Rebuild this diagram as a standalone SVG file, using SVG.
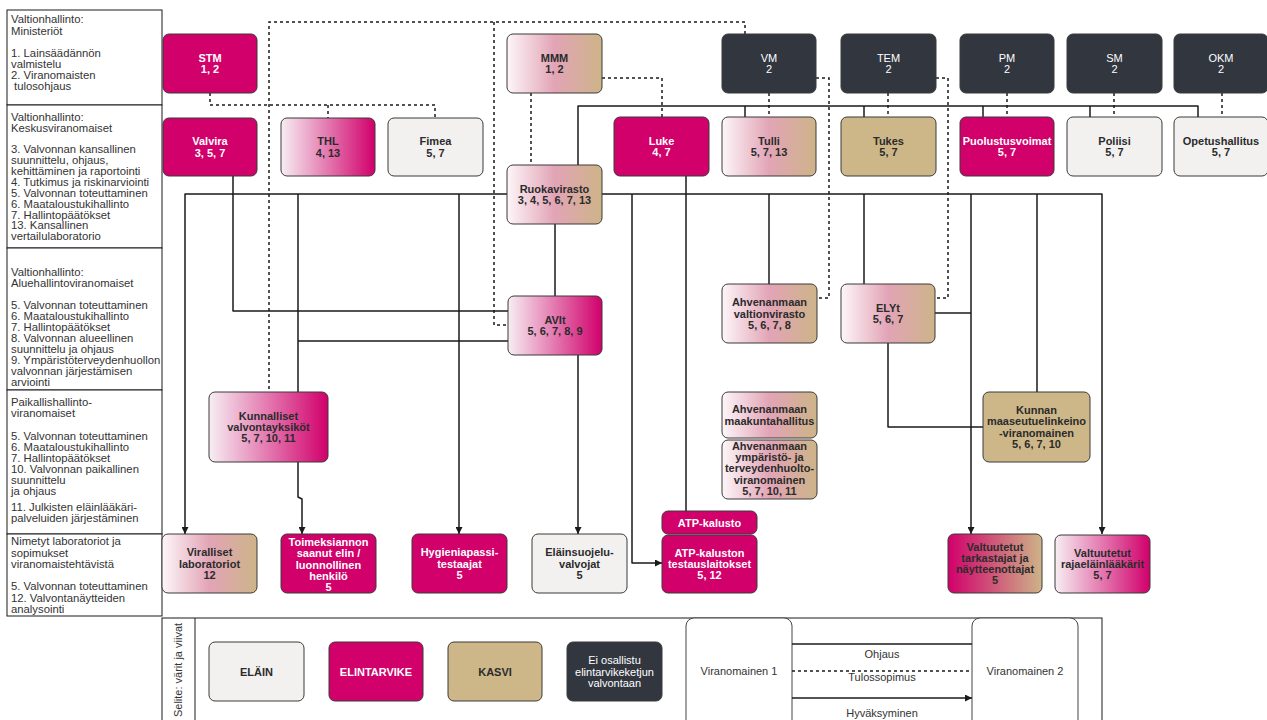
<svg xmlns="http://www.w3.org/2000/svg" width="1267" height="720" viewBox="0 0 1267 720">
<style>
.lc{fill:#fff;stroke:#1a1a1a;stroke-width:1}
.lt{font-family:"Liberation Sans",Arial,sans-serif;font-size:11.3px;fill:#333}
.n{stroke:#3a3a3a;stroke-width:1}
.t{font-family:"Liberation Sans",Arial,sans-serif;font-size:11px;font-weight:bold;text-anchor:middle;fill:#2b2b2b}
.tw{fill:#fff}
.tr{font-weight:normal}
.mag{fill:#D1006B}
.drk{fill:#32363F}
.gry{fill:#F2F1EF}
.tan{fill:#CDB788}
.s{fill:none;stroke:#1a1a1a;stroke-width:1.5;stroke-linejoin:round}
.d{fill:none;stroke:#1a1a1a;stroke-width:1.5;stroke-dasharray:3 3}
.a{marker-end:url(#arr)}
.lg{font-family:"Liberation Sans",Arial,sans-serif;font-size:11px;fill:#333;text-anchor:middle}
</style>
<defs>
<linearGradient id="wpt" x1="0" y1="0" x2="1" y2="0">
<stop offset="0" stop-color="#FDF6F9"/><stop offset="0.5" stop-color="#E2A4B6"/><stop offset="1" stop-color="#CDB488"/>
</linearGradient>
<linearGradient id="wm" x1="0" y1="0" x2="1" y2="0">
<stop offset="0" stop-color="#F6EEF2"/><stop offset="1" stop-color="#D1006B"/>
</linearGradient>
<linearGradient id="mt" x1="0" y1="0" x2="1" y2="0">
<stop offset="0" stop-color="#D1006B"/><stop offset="1" stop-color="#CDB488"/>
</linearGradient>
<marker id="arr" viewBox="0 0 10 10" refX="10" refY="5" markerWidth="7" markerHeight="7" markerUnits="userSpaceOnUse" orient="auto">
<path d="M0,0 L10,5 L0,10 z" fill="#1a1a1a"/>
</marker>
</defs>
<rect width="1267" height="720" fill="#fff"/>

<g id="levels">
<rect class="lc" x="7" y="10" width="155" height="95"/>
<text class="lt" x="11"><tspan x="11" y="23">Valtionhallinto:</tspan><tspan x="11" y="34.5">Ministeriöt</tspan><tspan x="11" y="56.5">1. Lainsäädännön</tspan><tspan x="11" y="67.5">valmistelu</tspan><tspan x="11" y="78.5">2. Viranomaisten</tspan><tspan x="14" y="89.5">tulosohjaus</tspan></text>
<rect class="lc" x="7" y="105" width="155" height="143"/>
<text class="lt"><tspan x="11" y="121">Valtionhallinto:</tspan><tspan x="11" y="132">Keskusviranomaiset</tspan><tspan x="11" y="153">3. Valvonnan kansallinen</tspan><tspan x="11" y="164">suunnittelu, ohjaus,</tspan><tspan x="11" y="175">kehittäminen ja raportointi</tspan><tspan x="11" y="186">4. Tutkimus ja riskinarviointi</tspan><tspan x="11" y="197">5. Valvonnan toteuttaminen</tspan><tspan x="11" y="207.5">6. Maataloustukihallinto</tspan><tspan x="11" y="218.5">7. Hallintopäätökset</tspan><tspan x="11" y="229">13. Kansallinen</tspan><tspan x="11" y="240">vertailulaboratorio</tspan></text>
<rect class="lc" x="7" y="248" width="155" height="142"/>
<text class="lt"><tspan x="11" y="276">Valtionhallinto:</tspan><tspan x="11" y="287">Aluehallintoviranomaiset</tspan><tspan x="11" y="309">5. Valvonnan toteuttaminen</tspan><tspan x="11" y="320">6. Maataloustukihallinto</tspan><tspan x="11" y="331">7. Hallintopäätökset</tspan><tspan x="11" y="342">8. Valvonnan alueellinen</tspan><tspan x="11" y="353">suunnittelu ja ohjaus</tspan><tspan x="11" y="364">9. Ympäristöterveydenhuollon</tspan><tspan x="11" y="375">valvonnan järjestämisen</tspan><tspan x="11" y="386">arviointi</tspan></text>
<rect class="lc" x="7" y="390" width="155" height="144"/>
<text class="lt"><tspan x="11" y="406">Paikallishallinto-</tspan><tspan x="11" y="417">viranomaiset</tspan><tspan x="11" y="440">5. Valvonnan toteuttaminen</tspan><tspan x="11" y="451">6. Maataloustukihallinto</tspan><tspan x="11" y="462">7. Hallintopäätökset</tspan><tspan x="11" y="473">10. Valvonnan paikallinen</tspan><tspan x="11" y="484">suunnittelu</tspan><tspan x="11" y="495">ja ohjaus</tspan><tspan x="11" y="511">11. Julkisten eläinlääkäri-</tspan><tspan x="11" y="522">palveluiden järjestäminen</tspan></text>
<rect class="lc" x="7" y="534" width="155" height="82"/>
<text class="lt"><tspan x="11" y="545">Nimetyt laboratoriot ja</tspan><tspan x="11" y="557">sopimukset</tspan><tspan x="11" y="568">viranomaistehtävistä</tspan><tspan x="11" y="590">5. Valvonnan toteuttaminen</tspan><tspan x="11" y="602">12. Valvontanäytteiden</tspan><tspan x="11" y="613">analysointi</tspan></text>
</g>

<g id="connectors">
<path class="d" d="M745,34 V22 H269 V392"/>
<path class="d" d="M494,22 V325 H508"/>
<path class="d" d="M210,93 V105 H435 V118"/>
<path class="d" d="M328,105 V118"/>
<path class="d" d="M602,78 H662 V117"/>
<path class="d" d="M531,93 V165"/>
<path class="d" d="M769,93 V117"/>
<path class="d" d="M816,78 H829 V298 H817"/>
<path class="d" d="M888,93 V117"/>
<path class="d" d="M936,78 H948 V298 H935"/>
<path class="d" d="M1007,93 V117"/>
<path class="d" d="M1114,93 V117"/>
<path class="d" d="M1222,93 V117"/>

<path class="s" d="M233,176 V311 H508"/>
<path class="s" d="M578,165 V106 H1198 V117"/>
<path class="s" d="M745,106 V117"/>
<path class="s" d="M864,106 V117"/>
<path class="s" d="M983,106 V117"/>
<path class="s" d="M1090,106 V117"/>
<path class="s a" d="M507,194 H185 V534"/>
<path class="s" d="M298,194 V392"/>
<path class="s a" d="M459,194 V534"/>
<path class="s a" d="M602,194 H1102 V534"/>
<path class="s a" d="M632,194 V563 H662"/>
<path class="s" d="M769,194 V284"/>
<path class="s" d="M864,194 V284"/>
<path class="s a" d="M971,194 V534"/>
<path class="s" d="M1037,194 V392"/>
<path class="s" d="M555,224 V296"/>
<path class="s" d="M686,176 V511"/>
<path class="s" d="M508,341 H298"/>
<path class="s a" d="M578,355 V534"/>
<path class="s a" d="M298,462 V497 L302,499 V534"/>
<path class="s" d="M935,313 H971"/>
<path class="s" d="M888,343 V427 H983"/>
</g>

<g id="n-stm"><rect class="n mag" x="163" y="34" width="94" height="59" rx="6"/><text class="t tw" x="210"><tspan x="210" y="61.9">STM</tspan><tspan x="210" y="73.2">1, 2</tspan></text></g>
<g id="n-mmm"><rect class="n" fill="url(#wpt)" x="507" y="34" width="95" height="59" rx="6"/><text class="t" x="554.5" fill="#444"><tspan x="554.5" y="61.9">MMM</tspan><tspan x="554.5" y="73.2">1, 2</tspan></text></g>
<g id="n-vm"><rect class="n drk" x="722" y="34" width="94" height="59" rx="6"/><text class="t tw tr" x="769"><tspan x="769" y="61.9">VM</tspan><tspan x="769" y="73.2">2</tspan></text></g>
<g id="n-tem"><rect class="n drk" x="841" y="34" width="95" height="59" rx="6"/><text class="t tw tr" x="888.5"><tspan x="888.5" y="61.9">TEM</tspan><tspan x="888.5" y="73.2">2</tspan></text></g>
<g id="n-pm"><rect class="n drk" x="960" y="34" width="94" height="59" rx="6"/><text class="t tw tr" x="1007"><tspan x="1007" y="61.9">PM</tspan><tspan x="1007" y="73.2">2</tspan></text></g>
<g id="n-sm"><rect class="n drk" x="1067" y="34" width="95" height="59" rx="6"/><text class="t tw tr" x="1114.5"><tspan x="1114.5" y="61.9">SM</tspan><tspan x="1114.5" y="73.2">2</tspan></text></g>
<g id="n-okm"><rect class="n drk" x="1174" y="34" width="94" height="59" rx="6"/><text class="t tw tr" x="1221"><tspan x="1221" y="61.9">OKM</tspan><tspan x="1221" y="73.2">2</tspan></text></g>

<g id="n-valvira"><rect class="n mag" x="163" y="118" width="94" height="58" rx="6"/><text class="t tw"><tspan x="210" y="145.4">Valvira</tspan><tspan x="210" y="156.7">3, 5, 7</tspan></text></g>
<g id="n-thl"><rect class="n" fill="url(#wm)" x="281" y="118" width="94" height="58" rx="6"/><text class="t"><tspan x="328" y="145.4">THL</tspan><tspan x="328" y="156.7">4, 13</tspan></text></g>
<g id="n-fimea"><rect class="n gry" x="388" y="118" width="95" height="58" rx="6"/><text class="t"><tspan x="435.5" y="145.4">Fimea</tspan><tspan x="435.5" y="156.7">5, 7</tspan></text></g>
<g id="n-luke"><rect class="n mag" x="614" y="117" width="95" height="59" rx="6"/><text class="t tw"><tspan x="661.5" y="144.9">Luke</tspan><tspan x="661.5" y="156.2">4, 7</tspan></text></g>
<g id="n-tulli"><rect class="n" fill="url(#wpt)" x="722" y="117" width="94" height="59" rx="6"/><text class="t"><tspan x="769" y="144.9">Tulli</tspan><tspan x="769" y="156.2">5, 7, 13</tspan></text></g>
<g id="n-tukes"><rect class="n tan" x="841" y="117" width="95" height="59" rx="6"/><text class="t"><tspan x="888.5" y="144.9">Tukes</tspan><tspan x="888.5" y="156.2">5, 7</tspan></text></g>
<g id="n-puolustusvoimat"><rect class="n mag" x="960" y="117" width="94" height="59" rx="6"/><text class="t tw"><tspan x="1007" y="144.9">Puolustusvoimat</tspan><tspan x="1007" y="156.2">5, 7</tspan></text></g>
<g id="n-poliisi"><rect class="n gry" x="1067" y="117" width="95" height="59" rx="6"/><text class="t"><tspan x="1114.5" y="144.9">Poliisi</tspan><tspan x="1114.5" y="156.2">5, 7</tspan></text></g>
<g id="n-opetushallitus"><rect class="n gry" x="1174" y="117" width="94" height="59" rx="6"/><text class="t"><tspan x="1221" y="144.9">Opetushallitus</tspan><tspan x="1221" y="156.2">5, 7</tspan></text></g>

<g id="n-ruokavirasto"><rect class="n" fill="url(#wpt)" x="507" y="165" width="95" height="59" rx="6"/><text class="t"><tspan x="554.5" y="192.9">Ruokavirasto</tspan><tspan x="554.5" y="204.2">3, 4, 5, 6, 7, 13</tspan></text></g>
<g id="n-avit"><rect class="n" fill="url(#wm)" x="508" y="296" width="94" height="59" rx="6"/><text class="t"><tspan x="555" y="323.9">AVIt</tspan><tspan x="555" y="335.2">5, 6, 7, 8, 9</tspan></text></g>
<g id="n-ahv-valtionvirasto"><rect class="n" fill="url(#wpt)" x="722" y="284" width="95" height="59" rx="6"/><text class="t"><tspan x="769.5" y="306.2">Ahvenanmaan</tspan><tspan x="769.5" y="317.5">valtionvirasto</tspan><tspan x="769.5" y="328.8">5, 6, 7, 8</tspan></text></g>
<g id="n-elyt"><rect class="n" fill="url(#wpt)" x="841" y="284" width="94" height="59" rx="6"/><text class="t"><tspan x="888" y="311.9">ELYt</tspan><tspan x="888" y="323.2">5, 6, 7</tspan></text></g>
<g id="n-kunnalliset"><rect class="n" fill="url(#wm)" x="209" y="392" width="119" height="70" rx="6"/><text class="t"><tspan x="268.5" y="419.7">Kunnalliset</tspan><tspan x="268.5" y="431">valvontayksiköt</tspan><tspan x="268.5" y="442.3">5, 7, 10, 11</tspan></text></g>
<g id="n-ahv-maakuntahallitus"><rect class="n" fill="url(#wpt)" x="722" y="392" width="95" height="46" rx="6"/><text class="t"><tspan x="769.5" y="413.4">Ahvenanmaan</tspan><tspan x="769.5" y="424.7">maakuntahallitus</tspan></text></g>
<g id="n-ahv-ymparisto"><rect class="n" fill="url(#wpt)" x="722" y="440" width="95" height="59" rx="6"/><text class="t"><tspan x="769.5" y="450">Ahvenanmaan</tspan><tspan x="769.5" y="461.2">ympäristö- ja</tspan><tspan x="769.5" y="472.4">terveydenhuolto-</tspan><tspan x="769.5" y="483.6">viranomainen</tspan><tspan x="769.5" y="494.8">5, 7, 10, 11</tspan></text></g>
<g id="n-kunnan-maaseutu"><rect class="n tan" x="983" y="392" width="107" height="70" rx="6"/><text class="t"><tspan x="1036.5" y="414">Kunnan</tspan><tspan x="1036.5" y="425.3">maaseutuelinkeino</tspan><tspan x="1036.5" y="436.6">-viranomainen</tspan><tspan x="1036.5" y="447.9">5, 6, 7, 10</tspan></text></g>

<g id="n-viralliset"><rect class="n" fill="url(#wpt)" x="162" y="534" width="95" height="59" rx="6"/><text class="t"><tspan x="209.5" y="556.2">Viralliset</tspan><tspan x="209.5" y="567.5">laboratoriot</tspan><tspan x="209.5" y="578.8">12</tspan></text></g>
<g id="n-toimeksiannon"><rect class="n mag" x="281" y="534" width="95" height="59" rx="6"/><text class="t tw"><tspan x="328.5" y="546.3">Toimeksiannon</tspan><tspan x="328.5" y="557.4">saanut elin /</tspan><tspan x="328.5" y="568.5">luonnollinen</tspan><tspan x="328.5" y="579.6">henkilö</tspan><tspan x="328.5" y="590.7">5</tspan></text></g>
<g id="n-hygieniapassi"><rect class="n mag" x="412" y="534" width="95" height="59" rx="6"/><text class="t tw"><tspan x="459.5" y="556.2">Hygieniapassi-</tspan><tspan x="459.5" y="567.5">testaajat</tspan><tspan x="459.5" y="578.8">5</tspan></text></g>
<g id="n-elainsuojelu"><rect class="n gry" x="532" y="534" width="95" height="59" rx="6"/><text class="t"><tspan x="579.5" y="556.2">Eläinsuojelu-</tspan><tspan x="579.5" y="567.5">valvojat</tspan><tspan x="579.5" y="578.8">5</tspan></text></g>
<g id="n-atp-kalusto"><rect class="n mag" x="662" y="511" width="95" height="23" rx="6"/><text class="t tw"><tspan x="709.5" y="526.5">ATP-kalusto</tspan></text></g>
<g id="n-atp-testaus"><rect class="n mag" x="662" y="535" width="95" height="58" rx="6"/><text class="t tw"><tspan x="709.5" y="556.7">ATP-kaluston</tspan><tspan x="709.5" y="568">testauslaitokset</tspan><tspan x="709.5" y="579.3">5, 12</tspan></text></g>
<g id="n-valtuutetut-tarkastajat"><rect class="n" fill="url(#mt)" x="948" y="534" width="94" height="59" rx="6"/><text class="t"><tspan x="995" y="550.5">Valtuutetut</tspan><tspan x="995" y="561.8">tarkastajat ja</tspan><tspan x="995" y="573.1">näytteenottajat</tspan><tspan x="995" y="584.4">5</tspan></text></g>
<g id="n-rajaelainlaakarit"><rect class="n" fill="url(#wm)" x="1055" y="535" width="95" height="58" rx="6"/><text class="t"><tspan x="1102.5" y="556.7">Valtuutetut</tspan><tspan x="1102.5" y="568">rajaeläinlääkärit</tspan><tspan x="1102.5" y="579.3">5, 7</tspan></text></g>

<g id="legend">
<rect x="162" y="618" width="940" height="110" fill="none" stroke="#1a1a1a" stroke-width="1"/>
<line x1="195" y1="618" x2="195" y2="720" stroke="#1a1a1a" stroke-width="1"/>
<text class="lg" transform="translate(182,670) rotate(-90)">Selite: värit ja viivat</text>
<g id="lg-elain"><rect class="n gry" x="209" y="642" width="95" height="59" rx="6"/><text class="t" x="256.5" y="675.5">ELÄIN</text></g>
<g id="lg-elintarvike"><rect class="n mag" x="329" y="642" width="94" height="59" rx="6"/><text class="t tw" x="376" y="675.5">ELINTARVIKE</text></g>
<g id="lg-kasvi"><rect class="n tan" x="448" y="642" width="94" height="59" rx="6"/><text class="t" x="495" y="675.5">KASVI</text></g>
<g id="lg-ei"><rect class="n drk" x="567" y="642" width="95" height="59" rx="6"/><text class="t tw tr"><tspan x="614.5" y="664">Ei osallistu</tspan><tspan x="614.5" y="675.5">elintarvikeketjun</tspan><tspan x="614.5" y="687">valvontaan</tspan></text></g>
<g id="lg-v1"><rect x="686" y="618" width="106" height="112" rx="8" fill="#fff" stroke="#444" stroke-width="1"/><text class="lg" x="739" y="675">Viranomainen 1</text></g>
<g id="lg-v2"><rect x="972" y="618" width="106" height="112" rx="8" fill="#fff" stroke="#444" stroke-width="1"/><text class="lg" x="1025" y="675">Viranomainen 2</text></g>
<line class="s" x1="792" y1="644" x2="972" y2="644"/>
<line class="d" x1="792" y1="671" x2="972" y2="671"/>
<line class="s a" x1="792" y1="698" x2="972" y2="698"/>
<text class="lg" x="882" y="658">Ohjaus</text>
<text class="lg" x="882" y="681">Tulossopimus</text>
<text class="lg" x="882" y="717">Hyväksyminen</text>
</g>
</svg>
